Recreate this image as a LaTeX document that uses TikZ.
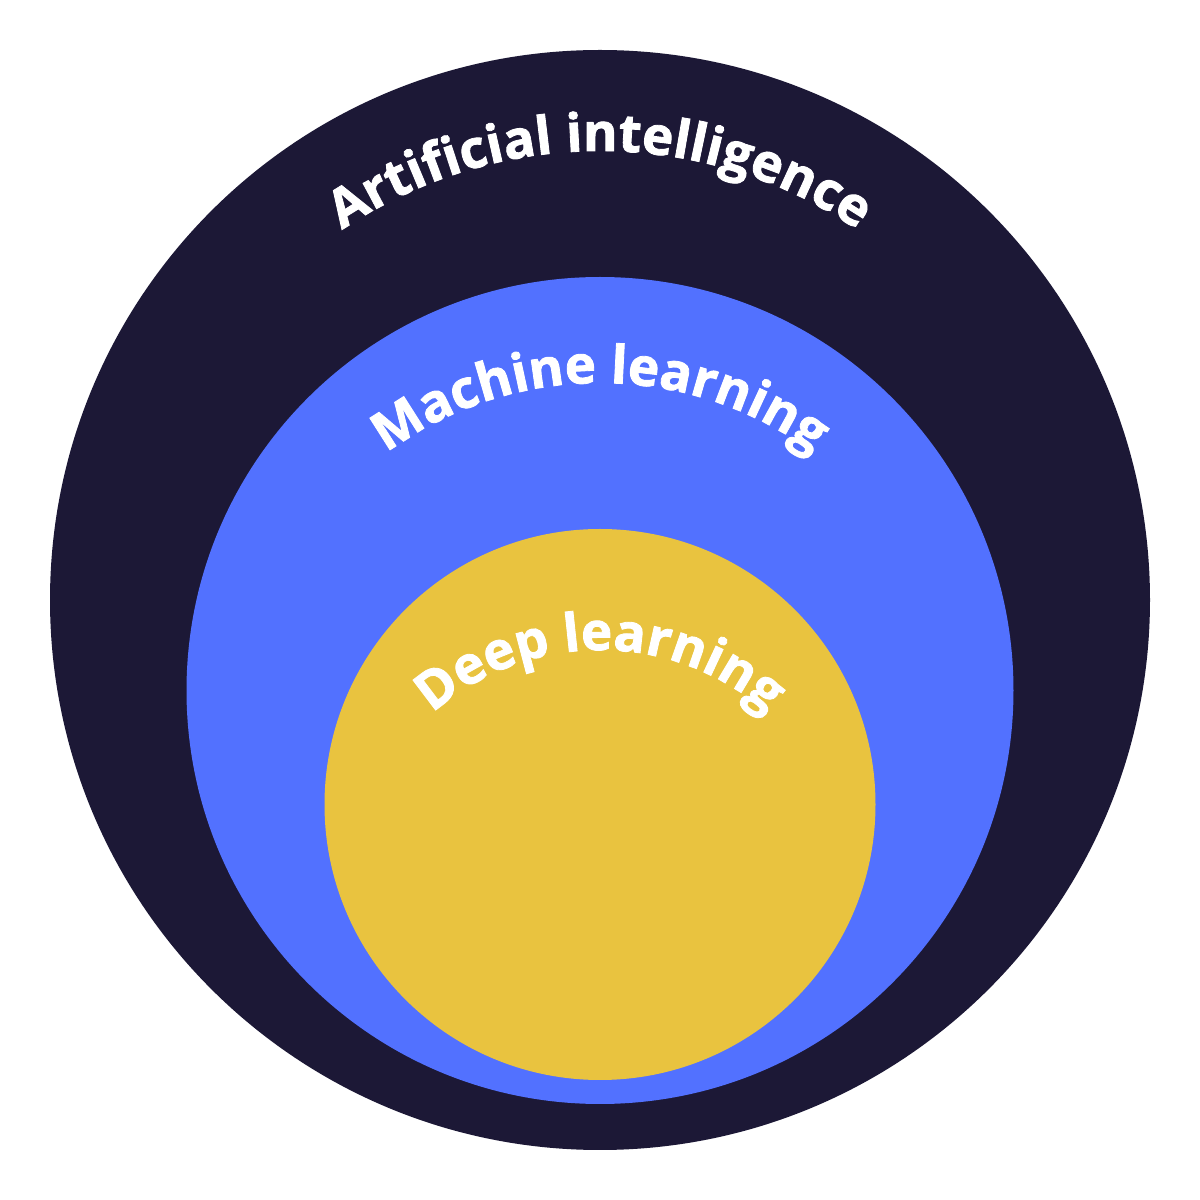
\documentclass[tikz,border=0pt]{standalone}
\usepackage{fontspec}
\setmainfont{Open Sans}[BoldFeatures={FakeBold=1.6}]
\usetikzlibrary{decorations.text}

\definecolor{ainavy}{HTML}{1C1836}
\definecolor{mlblue}{HTML}{5271FF}
\definecolor{dlyellow}{HTML}{E9C33F}

\tikzset{
	ringlabel/.style={decorate, decoration={text along path, text align=center,
		text={|\fontsize{15}{18}\selectfont\bfseries\color{white}|#1}}}
}

\begin{document}
\begin{tikzpicture}
		\useasboundingbox[fill=white] (0,0) rectangle (12,12);

		\coordinate (ai) at (6,6);
		\coordinate (ml) at (6,5.095);
		\coordinate (dl) at (6,3.955);

		% the three rings, outer to inner
		\fill[ainavy] (ai) circle (5.5);
		\fill[mlblue] (ml) circle (4.135);
		\fill[dlyellow] (dl) circle (2.755);

		% curved labels
		\path[ringlabel={Artificial intelligence}] (6,5.89) ++(180:4.6) arc[start angle=180, end angle=0, radius=4.6];
		\path[ringlabel={Machine learning}] (6,4.57) ++(180:3.6) arc[start angle=180, end angle=0, radius=3.6];
		\path[ringlabel={Deep learning}] (6,2.97) ++(180:2.53) arc[start angle=180, end angle=0, radius=2.53];
	\end{tikzpicture}
\end{document}
